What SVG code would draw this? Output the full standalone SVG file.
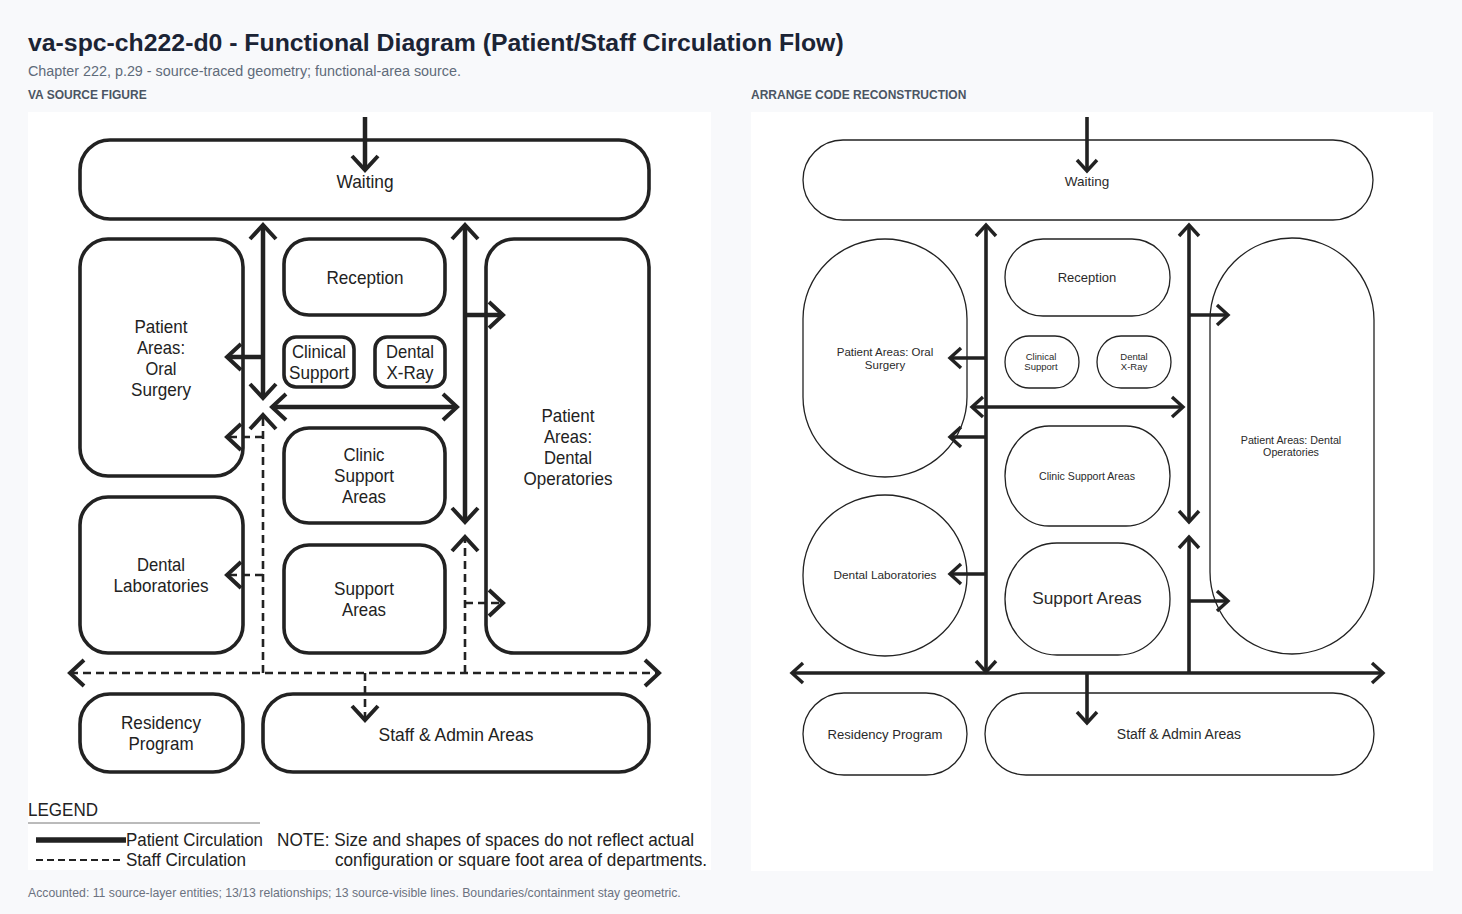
<svg xmlns="http://www.w3.org/2000/svg" width="1462" height="914" viewBox="0 0 1462 914">
<style>
.title{font-family:"Liberation Sans",Arial,sans-serif;font-weight:bold;font-size:24.8px;fill:#1b2435}
.sub{font-family:"Liberation Sans",Arial,sans-serif;font-size:14.35px;fill:#5f6b7a}
.sec{font-family:"Liberation Sans",Arial,sans-serif;font-weight:bold;font-size:12px;fill:#4b5563}
.foot{font-family:"Liberation Sans",Arial,sans-serif;font-size:12.25px;fill:#6b7280}
.panel{fill:#ffffff}
.ls{fill:#ffffff;stroke:#222;stroke-width:3.6}
.lt{font-family:"Liberation Sans",Arial,sans-serif;font-size:19px;fill:#222;text-anchor:middle}
.lg{font-family:"Liberation Sans",Arial,sans-serif;font-size:19px;fill:#222}
.ps{fill:none;stroke:#222;stroke-width:4.5}
.pd{fill:none;stroke:#222;stroke-width:2.6;stroke-dasharray:8 5}
.rs{fill:#ffffff;stroke:#222;stroke-width:1.3}
.rt{font-family:"Liberation Sans",Arial,sans-serif;fill:#2a2a2a;text-anchor:middle}
.rc{fill:none;stroke:#222;stroke-width:3.6}
</style>
<defs>
<marker id="ca" viewBox="-20 -20 40 40" markerWidth="40" markerHeight="40" refX="0" refY="0" orient="auto-start-reverse" markerUnits="userSpaceOnUse">
<path d="M-14,-13 L0,0 L-14,13" fill="none" stroke="#222" stroke-width="4" stroke-dasharray="none"/>
</marker>
<marker id="cb" viewBox="-20 -20 40 40" markerWidth="40" markerHeight="40" refX="0" refY="0" orient="auto-start-reverse" markerUnits="userSpaceOnUse">
<path d="M-11,-10 L0,0 L-11,10" fill="none" stroke="#222" stroke-width="3.4" stroke-dasharray="none"/>
</marker>
</defs>
<rect x="0" y="0" width="1462" height="914" fill="#f8f9fb"/>
<text class="title" x="28" y="51">va-spc-ch222-d0 - Functional Diagram (Patient/Staff Circulation Flow)</text>
<text class="sub" x="28" y="76">Chapter 222, p.29 - source-traced geometry; functional-area source.</text>
<text class="sec" x="28" y="99">VA SOURCE FIGURE</text>
<text class="sec" x="751" y="99">ARRANGE CODE RECONSTRUCTION</text>
<text class="foot" x="28" y="897">Accounted: 11 source-layer entities; 13/13 relationships; 13 source-visible lines. Boundaries/containment stay geometric.</text>

<rect class="panel" x="28" y="112" width="683" height="758"/>
<rect class="panel" x="751" y="112" width="682" height="759"/>

<!-- LEFT: source figure -->
<g id="src-waiting"><rect class="ls" x="80" y="140" width="569" height="79" rx="30"/><text class="lt" x="365" y="188" textLength="57" lengthAdjust="spacingAndGlyphs">Waiting</text></g>
<g id="src-oral"><rect class="ls" x="80" y="239" width="163" height="237" rx="28"/>
<text class="lt" x="161" y="333" textLength="53" lengthAdjust="spacingAndGlyphs">Patient</text>
<text class="lt" x="161" y="354" textLength="48" lengthAdjust="spacingAndGlyphs">Areas:</text>
<text class="lt" x="161" y="375" textLength="31" lengthAdjust="spacingAndGlyphs">Oral</text>
<text class="lt" x="161" y="396" textLength="60" lengthAdjust="spacingAndGlyphs">Surgery</text></g>
<g id="src-reception"><rect class="ls" x="284" y="239" width="161" height="76" rx="25"/><text class="lt" x="365" y="284" textLength="77" lengthAdjust="spacingAndGlyphs">Reception</text></g>
<g id="src-clinical"><rect class="ls" x="284" y="337" width="70" height="50" rx="12"/>
<text class="lt" x="319" y="358" textLength="54" lengthAdjust="spacingAndGlyphs">Clinical</text>
<text class="lt" x="319" y="379" textLength="60" lengthAdjust="spacingAndGlyphs">Support</text></g>
<g id="src-xray"><rect class="ls" x="375" y="337" width="70" height="50" rx="12"/>
<text class="lt" x="410" y="358" textLength="48" lengthAdjust="spacingAndGlyphs">Dental</text>
<text class="lt" x="410" y="379" textLength="47" lengthAdjust="spacingAndGlyphs">X-Ray</text></g>
<g id="src-clinicsupport"><rect class="ls" x="284" y="428" width="161" height="95" rx="25"/>
<text class="lt" x="364" y="461" textLength="41" lengthAdjust="spacingAndGlyphs">Clinic</text>
<text class="lt" x="364" y="482" textLength="60" lengthAdjust="spacingAndGlyphs">Support</text>
<text class="lt" x="364" y="503" textLength="44" lengthAdjust="spacingAndGlyphs">Areas</text></g>
<g id="src-dentalops"><rect class="ls" x="486" y="239" width="163" height="414" rx="28"/>
<text class="lt" x="568" y="422" textLength="53" lengthAdjust="spacingAndGlyphs">Patient</text>
<text class="lt" x="568" y="443" textLength="48" lengthAdjust="spacingAndGlyphs">Areas:</text>
<text class="lt" x="568" y="464" textLength="48" lengthAdjust="spacingAndGlyphs">Dental</text>
<text class="lt" x="568" y="485" textLength="89" lengthAdjust="spacingAndGlyphs">Operatories</text></g>
<g id="src-labs"><rect class="ls" x="80" y="497" width="163" height="156" rx="28"/>
<text class="lt" x="161" y="571" textLength="48" lengthAdjust="spacingAndGlyphs">Dental</text>
<text class="lt" x="161" y="592" textLength="95" lengthAdjust="spacingAndGlyphs">Laboratories</text></g>
<g id="src-support"><rect class="ls" x="284" y="545" width="161" height="108" rx="25"/>
<text class="lt" x="364" y="595" textLength="60" lengthAdjust="spacingAndGlyphs">Support</text>
<text class="lt" x="364" y="616" textLength="44" lengthAdjust="spacingAndGlyphs">Areas</text></g>
<g id="src-residency"><rect class="ls" x="80" y="694" width="163" height="78" rx="30"/>
<text class="lt" x="161" y="729" textLength="80" lengthAdjust="spacingAndGlyphs">Residency</text>
<text class="lt" x="161" y="750" textLength="65" lengthAdjust="spacingAndGlyphs">Program</text></g>
<g id="src-staff"><rect class="ls" x="263" y="694" width="386" height="78" rx="30"/>
<text class="lt" x="456" y="741" textLength="155" lengthAdjust="spacingAndGlyphs">Staff &amp; Admin Areas</text></g>

<g id="src-connectors">
<path class="ps" d="M365,117 V170" marker-end="url(#ca)"/>
<path class="ps" d="M263,225 V398" marker-start="url(#ca)" marker-end="url(#ca)"/>
<path class="ps" d="M263,357 H227" marker-end="url(#ca)"/>
<path class="ps" d="M272,407 H457" marker-start="url(#ca)" marker-end="url(#ca)"/>
<path class="ps" d="M465,225 V522" marker-start="url(#ca)" marker-end="url(#ca)"/>
<path class="ps" d="M465,315 H503" marker-end="url(#ca)"/>
<path class="pd" d="M263,673 V415" marker-end="url(#ca)"/>
<path class="pd" d="M263,437 H227" marker-end="url(#ca)"/>
<path class="pd" d="M263,575 H227" marker-end="url(#ca)"/>
<path class="pd" d="M465,673 V537" marker-end="url(#ca)"/>
<path class="pd" d="M465,603 H503" marker-end="url(#ca)"/>
<path class="pd" d="M70,673 H659" marker-start="url(#ca)" marker-end="url(#ca)"/>
<path class="pd" d="M365,673 V720" marker-end="url(#ca)"/>
</g>

<g id="src-legend">
<text class="lg" x="28" y="816" textLength="70" lengthAdjust="spacingAndGlyphs">LEGEND</text>
<line x1="28" y1="823" x2="260" y2="823" stroke="#777" stroke-width="1"/>
<line x1="36" y1="840" x2="126" y2="840" stroke="#222" stroke-width="5.5"/>
<line x1="36" y1="860" x2="124" y2="860" stroke="#222" stroke-width="2.2" stroke-dasharray="7 4"/>
<text class="lg" x="126" y="846" textLength="137" lengthAdjust="spacingAndGlyphs">Patient Circulation</text>
<text class="lg" x="126" y="866" textLength="120" lengthAdjust="spacingAndGlyphs">Staff Circulation</text>
<text class="lg" x="277" y="846" textLength="417" lengthAdjust="spacingAndGlyphs">NOTE: Size and shapes of spaces do not reflect actual</text>
<text class="lg" x="335" y="866" textLength="372" lengthAdjust="spacingAndGlyphs">configuration or square foot area of departments.</text>
</g>

<!-- RIGHT: reconstruction -->
<g id="waiting"><rect class="rs" x="803" y="140" width="570" height="80" rx="40"/><text class="rt" x="1087" y="186" font-size="13.5">Waiting</text></g>
<g id="oral-surgery"><rect class="rs" x="803" y="239" width="164" height="238" rx="82" ry="80"/>
<text class="rt" x="885" y="356" font-size="11.5">Patient Areas: Oral</text><text class="rt" x="885" y="369" font-size="11.5">Surgery</text></g>
<g id="reception"><rect class="rs" x="1005" y="239" width="165" height="77" rx="38"/><text class="rt" x="1087" y="282" font-size="13">Reception</text></g>
<g id="clinical-support"><rect class="rs" x="1005" y="336" width="74" height="52" rx="24" ry="26"/>
<text class="rt" x="1041" y="360" font-size="9.5">Clinical</text><text class="rt" x="1041" y="369.5" font-size="9.5">Support</text></g>
<g id="dental-xray"><rect class="rs" x="1097" y="336" width="74" height="52" rx="24" ry="26"/>
<text class="rt" x="1134" y="360" font-size="9.5">Dental</text><text class="rt" x="1134" y="369.5" font-size="9.5">X-Ray</text></g>
<g id="clinic-support-areas"><rect class="rs" x="1005" y="426" width="165" height="100" rx="44" ry="50"/>
<text class="rt" x="1087" y="480" font-size="10.6">Clinic Support Areas</text></g>
<g id="dental-labs"><rect class="rs" x="803" y="495" width="164" height="161" rx="82" ry="80"/>
<text class="rt" x="885" y="579" font-size="11.8">Dental Laboratories</text></g>
<g id="support-areas"><rect class="rs" x="1005" y="543" width="165" height="112" rx="52" ry="56"/>
<text class="rt" x="1087" y="604" font-size="17.3">Support Areas</text></g>
<g id="dental-operatories"><rect class="rs" x="1210" y="238" width="164" height="416" rx="82" ry="82"/>
<text class="rt" x="1291" y="443.5" font-size="10.7">Patient Areas: Dental</text><text class="rt" x="1291" y="455.5" font-size="10.7">Operatories</text></g>
<g id="residency"><rect class="rs" x="803" y="693" width="164" height="82" rx="41"/>
<text class="rt" x="885" y="739" font-size="13.1">Residency Program</text></g>
<g id="staff-admin"><rect class="rs" x="985" y="693" width="389" height="82" rx="41"/>
<text class="rt" x="1179" y="739" font-size="14">Staff &amp; Admin Areas</text></g>

<g id="connectors">
<path class="rc" d="M1087,117 V171" marker-end="url(#cb)"/>
<path class="rc" d="M986,225 V672" marker-start="url(#cb)" marker-end="url(#cb)"/>
<path class="rc" d="M986,358 H950" marker-end="url(#cb)"/>
<path class="rc" d="M986,437 H950" marker-end="url(#cb)"/>
<path class="rc" d="M986,574 H950" marker-end="url(#cb)"/>
<path class="rc" d="M972,407 H1183" marker-start="url(#cb)" marker-end="url(#cb)"/>
<path class="rc" d="M1189,225 V522" marker-start="url(#cb)" marker-end="url(#cb)"/>
<path class="rc" d="M1189,673 V537" marker-end="url(#cb)"/>
<path class="rc" d="M1189,315 H1228" marker-end="url(#cb)"/>
<path class="rc" d="M1189,601 H1228" marker-end="url(#cb)"/>
<path class="rc" d="M792,673 H1383" marker-start="url(#cb)" marker-end="url(#cb)"/>
<path class="rc" d="M1087,673 V723" marker-end="url(#cb)"/>
</g>
</svg>
